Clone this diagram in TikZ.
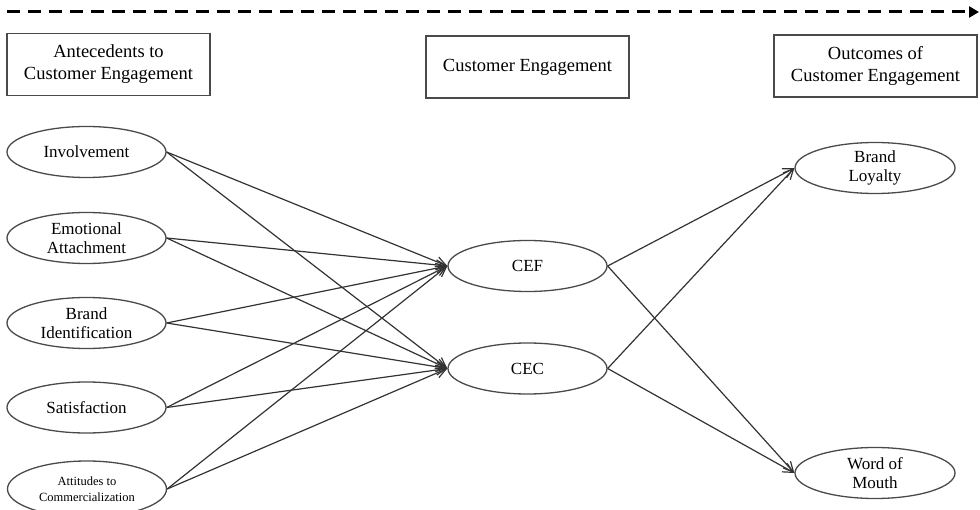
\documentclass[tikz,border=0pt]{standalone}
\usepackage{fontspec}
\setmainfont{Liberation Serif}
\usetikzlibrary{shapes.geometric,arrows.meta}
\definecolor{linegray}{HTML}{333333}
\definecolor{edgegray}{HTML}{4A4A4A}
\begin{document}
\begin{tikzpicture}[x=1pt,y=-1pt,
  headbox/.style={draw=edgegray,line width=1.3pt,minimum width=203pt,minimum height=62pt,
    inner sep=0pt,align=center,font=\fontsize{18.5}{22}\selectfont},
  factor/.style={ellipse,draw=edgegray,line width=1.3pt,minimum width=159pt,minimum height=51pt,
    inner sep=0pt,align=center,font=\fontsize{17}{19.5}\selectfont},
  link/.style={draw=linegray,line width=1.2pt,-{Straight Barb[length=10pt,width=10pt,line width=1.2pt]}},
  timeline/.style={draw=black,line width=3pt,dash pattern=on 12.5pt off 8.5pt,
    -{Triangle[length=10pt,width=11pt]}}]
\useasboundingbox (0,0) rectangle (980,510);

% time axis across the top
\coordinate (tstart) at (7,12);
\coordinate (tend) at (979,12);
\draw[timeline] (tstart) -- (tend);

% column headers
\node[headbox] (hant) at (108.5,64.5) {Antecedents to\\Customer Engagement};
\node[headbox] (hce)  at (527.5,67)   {Customer Engagement};
\node[headbox] (hout) at (875.5,66)   {Outcomes of\\Customer Engagement};

% antecedents
\node[factor] (inv) at (86.5,152) {Involvement};
\node[factor] (emo) at (86.5,238) {Emotional\\Attachment};
\node[factor] (bid) at (86.5,323) {Brand\\Identification};
\node[factor] (sat) at (86.5,407.5) {Satisfaction};
\node[factor,minimum height=56pt,font=\fontsize{12.5}{16}\selectfont] (att) at (87,489)
  {Attitudes to\\Commercialization};

% engagement
\node[factor] (cef) at (527.5,266) {CEF};
\node[factor] (cec) at (527.5,368.5) {CEC};

% outcomes
\node[factor,minimum width=160pt] (loy) at (875,168) {Brand\\Loyalty};
\node[factor,minimum width=160pt] (wom) at (875,473) {Word of\\Mouth};

% antecedents -> engagement
\foreach \src in {inv,emo,bid,sat,att}{
  \draw[link] (\src.east) -- (cef.west);
  \draw[link] (\src.east) -- (cec.west);
}

% engagement -> outcomes
\foreach \src in {cef,cec}{
  \draw[link] (\src.east) -- (loy.west);
  \draw[link] (\src.east) -- (wom.west);
}
\end{tikzpicture}
\end{document}
